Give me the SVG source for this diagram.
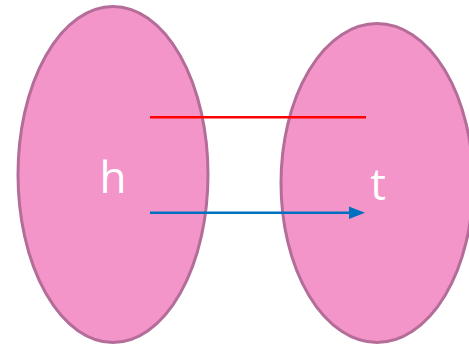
<svg xmlns="http://www.w3.org/2000/svg" width="469" height="346" viewBox="0 0 469 346">
<style>
.node{fill:#f395c8;stroke:#b46d99;stroke-width:3}
.lbl{fill:#ffffff;font-family:"Open Sans","Liberation Sans",sans-serif;font-size:44px;text-anchor:middle}
</style>
<defs>
<marker id="ah" markerWidth="10" markerHeight="10" refX="8" refY="5" orient="auto" markerUnits="userSpaceOnUse" viewBox="0 0 10 10">
<path d="M0,0 L10,5 L0,10 z" fill="#0070c0"/>
</marker>
</defs>
<rect width="469" height="346" fill="#ffffff"/>
<g id="h">
<ellipse class="node" cx="113" cy="174.5" rx="95" ry="168"/>
<text class="lbl" x="113" y="193">h</text>
</g>
<g id="t">
<ellipse class="node" cx="377" cy="183" rx="96" ry="159.5"/>
<text class="lbl" x="378" y="200">t</text>
</g>
<g id="connectors">
<line x1="150" y1="117.3" x2="366" y2="117.3" stroke="#ff0000" stroke-width="2.5"/>
<path d="M150,212.7 H351" stroke="#0070c0" stroke-width="2.5" fill="none"/>
<path d="M349,206.5 L365,212.7 L349,219 z" fill="#0070c0"/>
</g>
</svg>
